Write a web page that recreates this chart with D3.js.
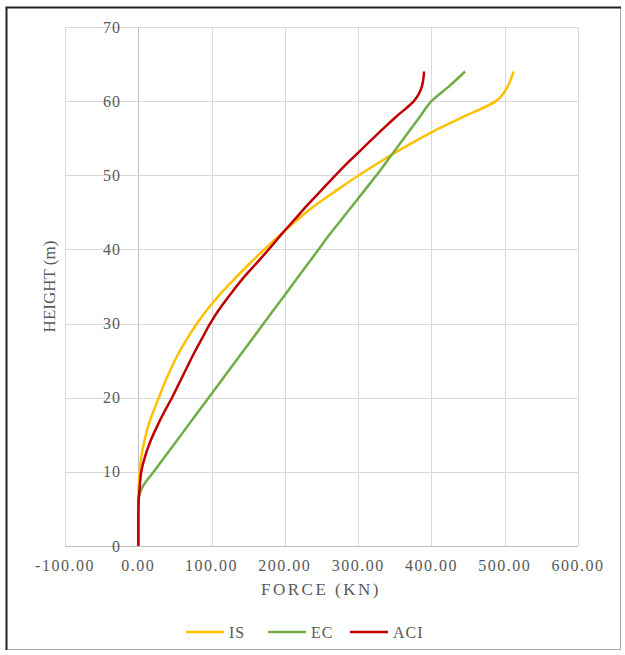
<!DOCTYPE html>
<html>
<head>
<meta charset="utf-8">
<script src="https://cdn.jsdelivr.net/npm/d3@7"></script>
<style>
  body { margin: 0; background: #fff; }
  svg text { font-family: "Liberation Serif", "DejaVu Serif", serif; fill: #595959; }
</style>
</head>
<body>
<svg id="chart"></svg>
<script>
// heights of the storey levels (m)
const heights = [0, 2, 4, 6, 8, 10, 12, 14, 16, 18, 20, 22, 24, 26, 28, 30, 32,
    34, 36, 38, 40, 42, 44, 46, 48, 50, 52, 54, 56, 58, 60, 62, 64];

// storey forces (kN)
const forceIS = [0, 0, 0, 0, 0.5, 2, 4, 8, 13, 20, 28, 36, 45, 55, 67, 80, 95,
    112, 131, 151, 172, 194, 217, 242, 271, 301, 333, 367, 404, 446, 488, 504, 512];
const forceEC = [0, 0, 0, 0, 6, 21, 36, 51, 66, 81, 96, 111, 126, 141, 156, 171, 186,
    201, 216, 231, 246, 261, 277, 293, 309, 325, 340, 355, 370, 385, 400, 424, 446];
const forceACI = [0, 0, 0, 0.5, 2, 4, 9, 16, 25, 35, 46, 56, 66, 76, 87, 98, 111,
    126, 142, 160, 178, 195, 213, 231, 250, 269, 289, 310, 331, 353, 376, 387, 390];

const seriesNames = ['IS', 'EC', 'ACI'];
const seriesColors = ['#ffc000', '#70ad47', '#c00000'];

const xTicks = [-100, 0, 100, 200, 300, 400, 500, 600];
const yTicks = [0, 10, 20, 30, 40, 50, 60, 70];

const width = 625,
    height = 655;

const svg = d3.select('#chart')
    .attr('width', width)
    .attr('height', height);

// outer frame
svg.append('rect')
    .attr('x', 6.5).attr('y', 7.5)
    .attr('width', 614).attr('height', 642)
    .attr('fill', '#fff')
    .attr('stroke', '#aaa');
svg.append('path')
    .attr('d', 'M6.5,650 V7.5 H621')
    .attr('fill', 'none')
    .attr('stroke', '#222')
    .attr('stroke-width', 2);

const x = d3.scaleLinear().domain([-100, 600]).range([65, 578]);
const y = d3.scaleLinear().domain([0, 70]).range([546, 27]);

// gridlines
svg.append('g')
    .selectAll('line')
    .data(xTicks)
    .enter().append('line')
    .attr('x1', d => Math.round(x(d)) + 0.5)
    .attr('x2', d => Math.round(x(d)) + 0.5)
    .attr('y1', y(70))
    .attr('y2', y(0))
    .attr('stroke', d => d === 0 ? '#bfbfbf' : '#d9d9d9');

svg.append('g')
    .selectAll('line')
    .data(yTicks)
    .enter().append('line')
    .attr('x1', x(-100))
    .attr('x2', x(600))
    .attr('y1', d => Math.round(y(d)) + 0.5)
    .attr('y2', d => Math.round(y(d)) + 0.5)
    .attr('stroke', d => d === 0 ? '#bfbfbf' : '#d9d9d9');

// tick labels
svg.append('g')
    .selectAll('text')
    .data(xTicks)
    .enter().append('text')
    .attr('x', d => x(d))
    .attr('y', 571)
    .attr('text-anchor', 'middle')
    .style('font-size', '16px')
    .style('letter-spacing', '1.5px')
    .text(d => d.toFixed(2));

svg.append('g')
    .selectAll('text')
    .data(yTicks)
    .enter().append('text')
    .attr('x', 121)
    .attr('y', d => y(d))
    .attr('dy', '0.35em')
    .attr('text-anchor', 'end')
    .style('font-size', '16px')
    .style('letter-spacing', '1px')
    .text(d => d);

// axis titles
svg.append('text')
    .attr('x', 321)
    .attr('y', 595)
    .attr('text-anchor', 'middle')
    .style('font-size', '17px')
    .style('letter-spacing', '2.5px')
    .text('FORCE (KN)');

svg.append('text')
    .attr('transform', 'translate(55,' + ((y(0) + y(70)) / 2) + ') rotate(-90)')
    .attr('text-anchor', 'middle')
    .style('font-size', '17px')
    .text('HEIGHT (m)');

// series lines
const series = [forceIS, forceEC, forceACI].map((vals, i) => ({
    name: seriesNames[i],
    color: seriesColors[i],
    points: vals.map((f, j) => ({ f: f, h: heights[j] }))
}));

const line = d3.line()
    .x(d => x(d.f))
    .y(d => y(d.h))
    .curve(d3.curveMonotoneY);

svg.append('g')
    .selectAll('path')
    .data(series)
    .enter().append('path')
    .attr('d', d => line(d.points))
    .attr('fill', 'none')
    .attr('stroke', d => d.color)
    .attr('stroke-width', 2.5)
    .attr('stroke-linejoin', 'round');

// legend
const legendX = [186, 268, 350];
const legend = svg.append('g')
    .selectAll('g')
    .data(series)
    .enter().append('g')
    .attr('transform', (d, i) => 'translate(' + legendX[i] + ',632)');

legend.append('line')
    .attr('x1', 0).attr('x2', 38)
    .attr('stroke', d => d.color)
    .attr('stroke-width', 2.5);

legend.append('text')
    .attr('x', 43)
    .attr('dy', '0.35em')
    .style('font-size', '16px')
    .style('letter-spacing', '1px')
    .text(d => d.name);
</script>
</body>
</html>
